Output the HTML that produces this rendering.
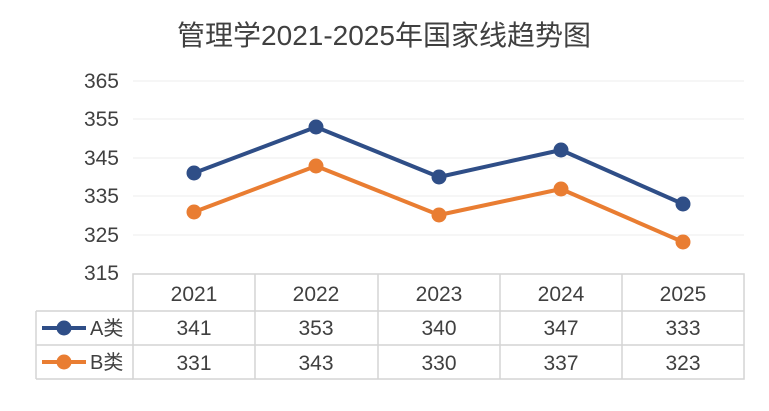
<!DOCTYPE html>
<html><head><meta charset="utf-8"><style>
html,body{margin:0;padding:0;background:#fff;}
svg text{font-family:"Liberation Sans","Noto Sans CJK SC",sans-serif;fill:#404040;}
</style></head><body>
<svg width="769" height="406" viewBox="0 0 769 406" xmlns="http://www.w3.org/2000/svg">
<rect x="0" y="0" width="769" height="406" fill="#fff"/>
<text x="384" y="45" font-size="28" text-anchor="middle" fill="#595959">管理学2021-2025年国家线趋势图</text>
<g stroke="#ececec" stroke-width="1">
<line x1="133" y1="81" x2="744" y2="81"/>
<line x1="133" y1="119" x2="744" y2="119"/>
<line x1="133" y1="158" x2="744" y2="158"/>
<line x1="133" y1="196" x2="744" y2="196"/>
<line x1="133" y1="235" x2="744" y2="235"/>
</g>
<g font-size="21" text-anchor="end">
<text x="119" y="88">365</text>
<text x="119" y="126">355</text>
<text x="119" y="165">345</text>
<text x="119" y="203">335</text>
<text x="119" y="242">325</text>
<text x="119" y="280">315</text>
</g>
<g stroke="#d4d4d4" stroke-width="1.5" fill="none">
<rect x="133" y="274" width="611" height="105"/>
<line x1="36" y1="311" x2="744" y2="311"/>
<line x1="36" y1="345" x2="744" y2="345"/>
<line x1="36" y1="379" x2="133" y2="379"/>
<line x1="36" y1="311" x2="36" y2="379"/>
<line x1="255" y1="274" x2="255" y2="379"/>
<line x1="378" y1="274" x2="378" y2="379"/>
<line x1="500" y1="274" x2="500" y2="379"/>
<line x1="622" y1="274" x2="622" y2="379"/>
</g>
<g font-size="21" text-anchor="middle">
<text x="194" y="301">2021</text><text x="316" y="301">2022</text><text x="439" y="301">2023</text><text x="561" y="301">2024</text><text x="683" y="301">2025</text>
<text x="194" y="335">341</text><text x="316" y="335">353</text><text x="439" y="335">340</text><text x="561" y="335">347</text><text x="683" y="335">333</text>
<text x="194" y="370">331</text><text x="316" y="370">343</text><text x="439" y="370">330</text><text x="561" y="370">337</text><text x="683" y="370">323</text>
</g>
<polyline points="194,173 316,127 439,177 561,150 683,204" fill="none" stroke="#2F4E87" stroke-width="4" stroke-linejoin="round"/>
<polyline points="194,212 316,166 439,215 561,189 683,242" fill="none" stroke="#E97D32" stroke-width="4" stroke-linejoin="round"/>
<g fill="#2F4E87">
<circle cx="194" cy="173" r="7.5"/><circle cx="316" cy="127" r="7.5"/><circle cx="439" cy="177" r="7.5"/><circle cx="561" cy="150" r="7.5"/><circle cx="683" cy="204" r="7.5"/>
</g>
<g fill="#E97D32">
<circle cx="194" cy="212" r="7.5"/><circle cx="316" cy="166" r="7.5"/><circle cx="439" cy="215" r="7.5"/><circle cx="561" cy="189" r="7.5"/><circle cx="683" cy="242" r="7.5"/>
</g>
<line x1="42" y1="328" x2="86" y2="328" stroke="#2F4E87" stroke-width="4"/>
<circle cx="64" cy="328" r="7.5" fill="#2F4E87"/>
<line x1="42" y1="362" x2="86" y2="362" stroke="#E97D32" stroke-width="4"/>
<circle cx="64" cy="362" r="7.5" fill="#E97D32"/>
<text x="90" y="335" font-size="20">A类</text>
<text x="90" y="369" font-size="20">B类</text>
</svg>
</body></html>
